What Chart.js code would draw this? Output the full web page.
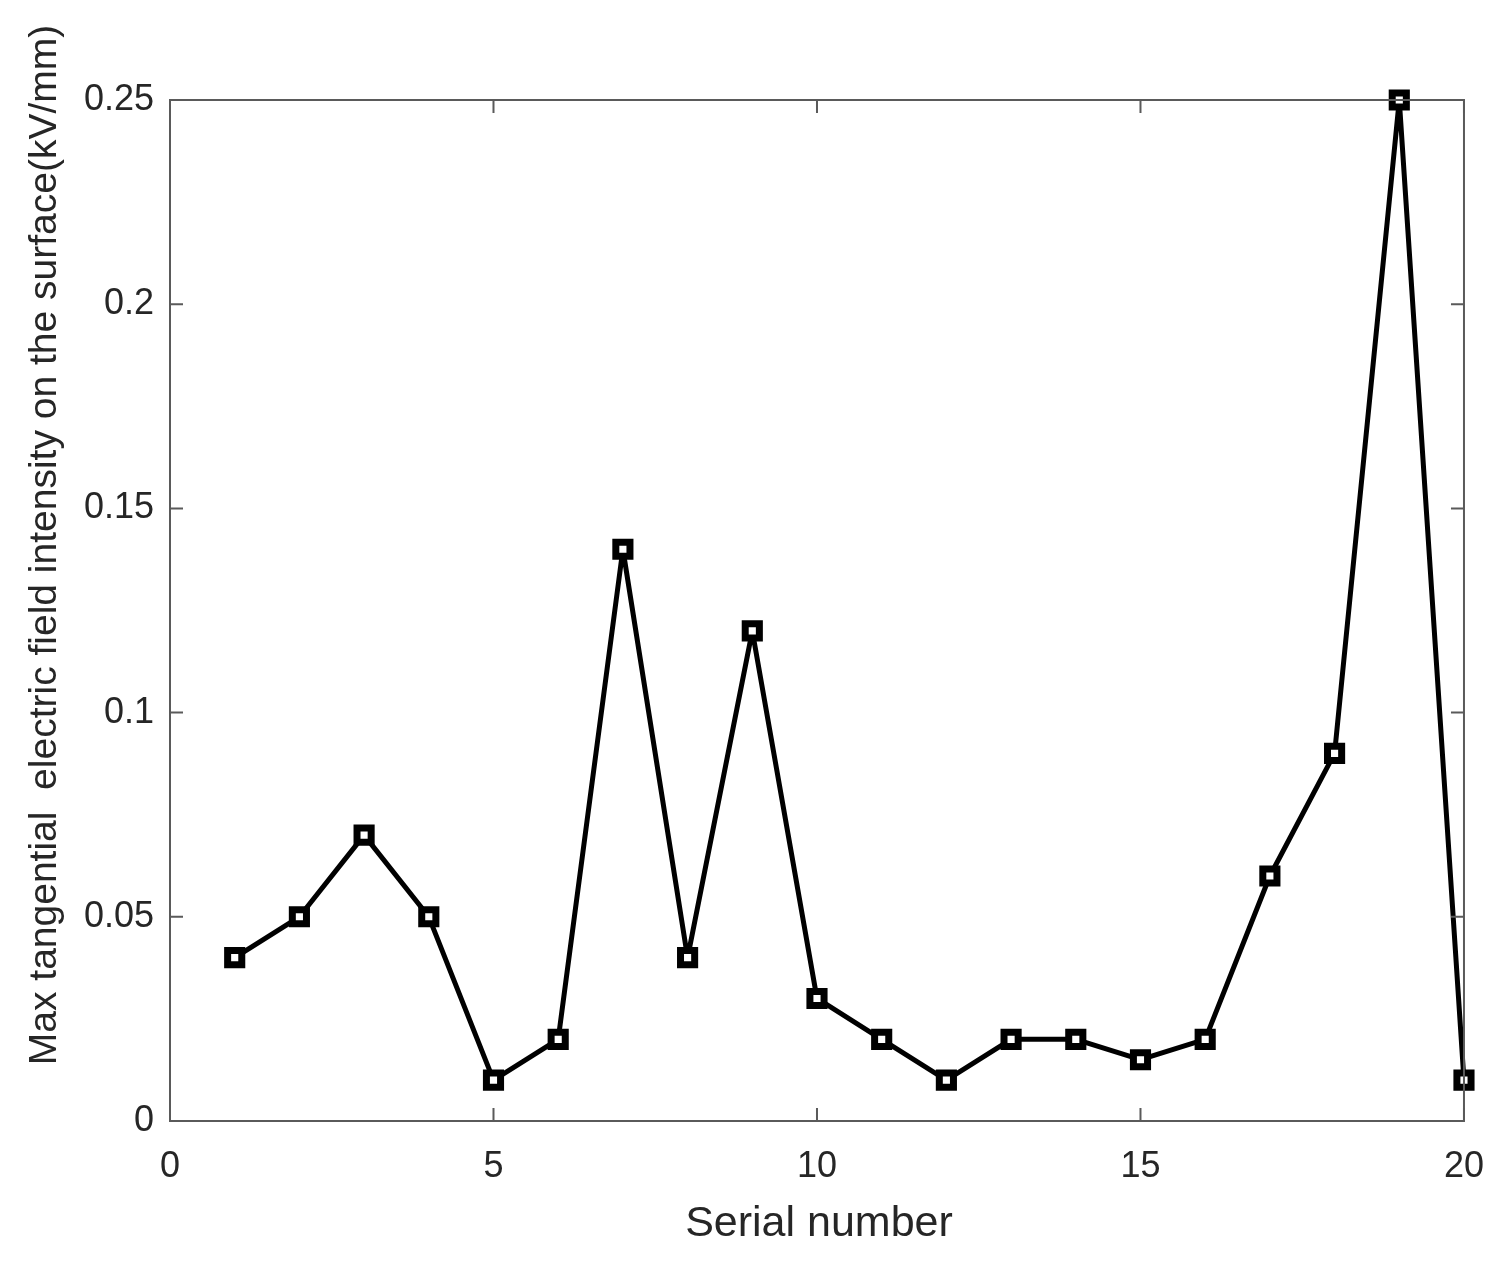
<!DOCTYPE html>
<html>
<head>
<meta charset="utf-8">
<script src="https://cdn.jsdelivr.net/npm/chart.js@4.4.0/dist/chart.umd.min.js"></script>
<style>
  html, body { margin: 0; padding: 0; background: #ffffff; }
  #wrap { width: 1508px; height: 1271px; position: relative; }
</style>
</head>
<body>
<div id="wrap"><canvas id="c" width="1508" height="1271"></canvas></div>
<script>
const serialNumbers = [1, 2, 3, 4, 5, 6, 7, 8, 9, 10, 11, 12, 13, 14, 15, 16, 17, 18, 19, 20];
const fieldIntensity = [0.04, 0.05, 0.07, 0.05, 0.01, 0.02, 0.14, 0.04, 0.12, 0.03, 0.02, 0.01, 0.02, 0.02, 0.015, 0.02, 0.06, 0.09, 0.25, 0.01];
const xTickValues = [0, 5, 10, 15, 20];
const yTickValues = [0, 0.05, 0.1, 0.15, 0.2, 0.25];
const yTickLabels = ['0', '0.05', '0.1', '0.15', '0.2', '0.25'];
const xTitle = 'Serial number';
const yTitle = 'Max tangential  electric field intensity on the surface(kV/mm)';

const axisColor = '#5a5a5a';
const textColor = '#262626';
const fontFamily = 'Liberation Sans, Arial, sans-serif';

const boxPlugin = {
  id: 'matlabBox',
  afterDatasetsDraw(chart) {
    const { ctx, chartArea: a, scales } = chart;
    ctx.save();
    ctx.strokeStyle = axisColor;
    ctx.lineWidth = 2;
    ctx.beginPath();
    ctx.rect(a.left, a.top, a.right - a.left, a.bottom - a.top);
    ctx.stroke();
    const len = 13;
    ctx.beginPath();
    xTickValues.forEach(v => {
      const px = scales.x.getPixelForValue(v);
      ctx.moveTo(px, a.bottom); ctx.lineTo(px, a.bottom - len);
      ctx.moveTo(px, a.top); ctx.lineTo(px, a.top + len);
    });
    yTickValues.forEach(v => {
      const py = scales.y.getPixelForValue(v);
      ctx.moveTo(a.left, py); ctx.lineTo(a.left + len, py);
      ctx.moveTo(a.right, py); ctx.lineTo(a.right - len, py);
    });
    ctx.stroke();

    // axis titles
    ctx.fillStyle = textColor;
    ctx.textAlign = 'center';
    ctx.textBaseline = 'middle';
    ctx.font = '43px ' + fontFamily;
    ctx.fillText(xTitle, (a.left + a.right) / 2 + 2, 1224);
    ctx.save();
    ctx.translate(45, 545);
    ctx.rotate(-Math.PI / 2);
    ctx.font = '39px ' + fontFamily;
    ctx.fillText(yTitle, 0, 0);
    ctx.restore();
    ctx.restore();
  }
};

new Chart(document.getElementById('c'), {
  type: 'line',
  data: {
    datasets: [{
      data: serialNumbers.map((x, i) => ({ x: x, y: fieldIntensity[i] })),
      borderColor: '#000000',
      borderWidth: 5,
      borderJoinStyle: 'round',
      pointStyle: 'rect',
      pointRadius: 10,
      pointBorderWidth: 7,
      pointBorderColor: '#000000',
      pointBackgroundColor: '#ffffff',
      tension: 0,
      clip: false
    }]
  },
  options: {
    responsive: false,
    animation: false,
    devicePixelRatio: 1,
    layout: { padding: { left: 0, top: 100, right: 43, bottom: 0 } },
    plugins: { legend: { display: false }, tooltip: { enabled: false } },
    scales: {
      x: {
        type: 'linear',
        min: 0, max: 20,
        afterFit(s) { s.height = 150; },
        afterBuildTicks(s) { s.ticks = xTickValues.map(v => ({ value: v })); },
        grid: { display: false, drawTicks: false },
        border: { display: false },
        ticks: {
          color: textColor,
          font: { family: fontFamily, size: 36 },
          padding: 24,
          maxRotation: 0,
          callback: v => String(v)
        },
        title: { display: false }
      },
      y: {
        type: 'linear',
        min: 0, max: 0.25,
        afterFit(s) { s.width = 170; },
        afterBuildTicks(s) { s.ticks = yTickValues.map(v => ({ value: v })); },
        grid: { display: false, drawTicks: false },
        border: { display: false },
        ticks: {
          color: textColor,
          font: { family: fontFamily, size: 36 },
          padding: 16,
          callback: v => yTickLabels[yTickValues.indexOf(v)] ?? ''
        },
        title: { display: false }
      }
    }
  },
  plugins: [boxPlugin]
});
</script>
</body>
</html>
